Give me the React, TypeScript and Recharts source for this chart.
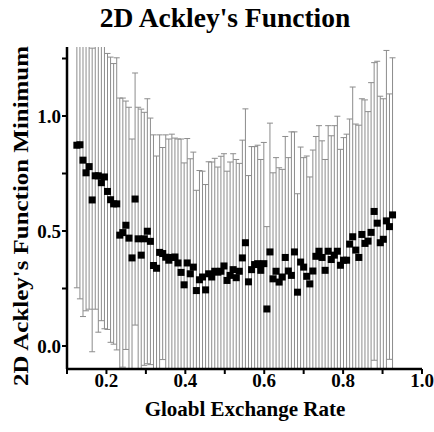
import { ScatterChart, Scatter, XAxis, YAxis, ErrorBar, Label } from 'recharts';

// evenly spaced exchange rates, 0.125 .. 0.925
const X_START = 0.125;
const X_STEP = 0.00777;

const MEANS = [
  0.873, 0.875, 0.808, 0.753, 0.78, 0.635, 0.74, 0.74, 0.71, 0.735,
  0.672, 0.636, 0.618, 0.618, 0.482, 0.493, 0.525, 0.469, 0.383, 0.639,
  0.466, 0.395, 0.466, 0.499, 0.455, 0.35, 0.338, 0.407, 0.402, 0.386,
  0.373, 0.385, 0.387, 0.361, 0.32, 0.266, 0.361, 0.314, 0.343, 0.241,
  0.288, 0.3, 0.244, 0.314, 0.3, 0.325, 0.321, 0.325, 0.348, 0.285,
  0.307, 0.332, 0.297, 0.325, 0.383, 0.449, 0.279, 0.332, 0.354, 0.358,
  0.329, 0.358, 0.161, 0.409, 0.292, 0.325, 0.278, 0.3, 0.385, 0.326,
  0.307, 0.409, 0.234, 0.365, 0.343, 0.303, 0.27, 0.326, 0.39, 0.412,
  0.385, 0.329, 0.412, 0.376, 0.395, 0.412, 0.351, 0.373, 0.373, 0.443,
  0.475, 0.417, 0.385, 0.485, 0.446, 0.456, 0.494, 0.585, 0.534, 0.449,
  0.464, 0.544, 0.519, 0.57,
];

const ERRORS = [
  0.62, 0.67, 0.68, 0.6, 0.62, 0.66, 0.58, 0.68, 0.6, 0.66,
  0.6, 0.62, 0.61, 0.635, 0.596, 0.585, 0.54, 0.569, 0.517, 0.548,
  0.572, 0.635, 0.55, 0.576, 0.536, 0.568, 0.488, 0.511, 0.461, 0.532,
  0.527, 0.536, 0.517, 0.539, 0.58, 0.53, 0.541, 0.5, 0.5, 0.436,
  0.475, 0.46, 0.458, 0.487, 0.5, 0.491, 0.457, 0.5, 0.488, 0.475,
  0.493, 0.504, 0.514, 0.469, 0.512, 0.582, 0.462, 0.535, 0.513, 0.515,
  0.482, 0.527, 0.358, 0.56, 0.461, 0.494, 0.497, 0.468, 0.526, 0.493,
  0.624, 0.522, 0.428, 0.5, 0.476, 0.523, 0.465, 0.526, 0.521, 0.546,
  0.507, 0.482, 0.546, 0.538, 0.563, 0.587, 0.504, 0.533, 0.548, 0.544,
  0.651, 0.548, 0.575, 0.59, 0.624, 0.563, 0.651, 0.647, 0.704, 0.637,
  0.611, 0.741, 0.577, 0.683,
];

const X_TICKS = [0.1, 0.2, 0.3, 0.4, 0.5, 0.6, 0.7, 0.8, 0.9, 1.0];
const X_LABELED = [0.2, 0.4, 0.6, 0.8, 1.0];
const Y_TICKS = [0, 0.25, 0.5, 0.75, 1.0, 1.25];
const Y_LABELED = [0, 0.5, 1.0];

const data = MEANS.map((y, i) => ({ x: X_START + i * X_STEP, y, err: ERRORS[i] }));

const FONT = '"Liberation Serif", "Times New Roman", serif';
const tickStyle = { fill: '#000', fontSize: 19, fontWeight: 'bold', fontFamily: FONT };

const only = (list: number[]) => (v: number) =>
  list.some((t) => Math.abs(t - v) < 1e-6) ? v.toFixed(1) : '';

const Square = (props: any) => {
  const { cx, cy } = props;
  if (cx == null || cy == null) return null;
  return <rect x={cx - 3.5} y={cy - 3.5} width={7} height={7} fill="#000" />;
};

export default function App() {
  return (
    <div style={{ position: 'absolute', left: 0, top: 0, width: 434, height: 432, background: '#fff' }}>
      {/* error bars are not clipped by recharts, so clip them to the plot box */}
      <style>{`.recharts-errorBars, .recharts-errorBar { clip-path: url(#plot-box); }`}</style>
      <svg width={0} height={0} style={{ position: 'absolute' }}>
        <defs>
          <clipPath id="plot-box" clipPathUnits="userSpaceOnUse">
            <rect x={67} y={47} width={355} height={322} />
          </clipPath>
        </defs>
      </svg>
      <div
        style={{
          position: 'absolute',
          left: 0,
          top: 3,
          width: 450,
          textAlign: 'center',
          fontFamily: FONT,
          fontWeight: 'bold',
          fontSize: 27.5,
          lineHeight: '30px',
          color: '#000',
        }}
      >
        2D Ackley's Function
      </div>
      <ScatterChart width={434} height={432} margin={{ top: 47, right: 12, bottom: 0, left: 0 }}>
        <XAxis
          type="number"
          dataKey="x"
          domain={[0.1, 1.0]}
          allowDataOverflow
          ticks={X_TICKS}
          interval={0}
          tickFormatter={only(X_LABELED)}
          height={63}
          tickSize={5}
          tickMargin={0}
          axisLine={{ stroke: '#000', strokeWidth: 2.5 }}
          tickLine={{ stroke: '#000', strokeWidth: 2 }}
          tick={tickStyle}
        >
          <Label
            content={() => (
              <text x={245} y={416} textAnchor="middle" fontFamily={FONT} fontWeight="bold" fontSize={21} fill="#000">
                Gloabl Exchange Rate
              </text>
            )}
          />
        </XAxis>
        <YAxis
          type="number"
          dataKey="y"
          domain={[-0.1, 1.3]}
          allowDataOverflow
          ticks={Y_TICKS}
          interval={0}
          tickFormatter={only(Y_LABELED)}
          width={67}
          tickSize={5}
          tickMargin={1}
          axisLine={{ stroke: '#000', strokeWidth: 2.5 }}
          tickLine={{ stroke: '#000', strokeWidth: 2 }}
          tick={tickStyle}
        >
          <Label
            content={() => (
              <text
                x={0}
                y={0}
                transform="translate(28, 216) rotate(-90)"
                textAnchor="middle"
                fontFamily={FONT}
                fontWeight="bold"
                fontSize={21}
                textLength={340}
                lengthAdjust="spacingAndGlyphs"
                fill="#000"
              >
                2D Ackley's Function Minimum
              </text>
            )}
          />
        </YAxis>
        <Scatter data={data} dataKey="y" shape={Square} isAnimationActive={false}>
          <ErrorBar dataKey="err" direction="y" width={3} stroke="#8c8c8c" strokeWidth={1} />
        </Scatter>
      </ScatterChart>
    </div>
  );
}
